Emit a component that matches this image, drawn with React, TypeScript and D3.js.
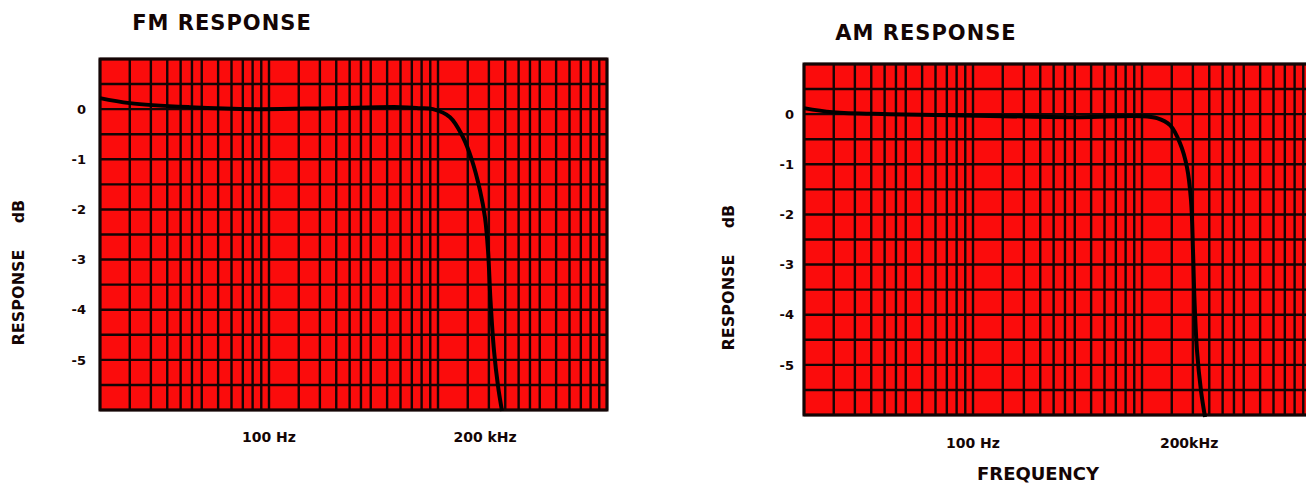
import React from "react";
import { scaleLog, scaleLinear, line, curveCatmullRom } from "d3";

// log paper: lines at these multiples of every decade
const decades = [10, 100, 1000];
const gridSteps = [1, 1.5, 2, 2.5, 3, 3.5, 4, 5, 6, 7, 8, 9];
const dbTicks = [0, -1, -2, -3, -4, -5];

// FM curve (frequency on the paper's log axis, response in dB)
const fmFreq = [10, 15, 34, 85, 229, 596, 782, 933, 1178, 1406, 1589, 1772, 1897, 1977, 2045, 2145, 2265, 2392];
const fmDb = [0.22, 0.12, 0.04, 0.0, 0.02, 0.04, 0.02, 0.0, -0.16, -0.56, -1.02, -1.62, -2.16, -2.82, -3.82, -4.82, -5.52, -6.02];

// AM curve
const amFreq = [10, 14.8, 32, 150, 430, 973, 1227, 1465, 1679, 1846, 1950, 2003, 2045, 2116, 2235, 2360];
const amDb = [0.12, 0.04, 0.0, -0.04, -0.06, -0.04, -0.08, -0.22, -0.58, -1.06, -1.72, -2.72, -3.72, -4.72, -5.52, -6.04];

const freqTicks = [100, 1900];
const freqLabels = ["100 Hz", "200 kHz"];
const amFreqLabels = ["100 Hz", "200kHz"];

const FONT = "'DejaVu Sans', Verdana, sans-serif";
const INK = "#140505";

interface ChartProps {
  title: string;
  freq: number[];
  db: number[];
  labels: string[];
  left: number;
  top: number;
  titleX: number;
  titleY: number;
  tickLabelX: number;
  axisTitleX: number;
  xLabelY: number;
}

function ResponseChart({
  title, freq, db, labels, left, top, titleX, titleY, tickLabelX, axisTitleX, xLabelY,
}: ChartProps) {
  const width = 507;
  const height = 351;
  const x = scaleLog().domain([10, 10000]).range([0, width]);
  const y = scaleLinear().domain([-6, 1]).range([height, 0]);

  const vLines: number[] = [];
  decades.forEach((d) => gridSteps.forEach((m) => vLines.push(d * m)));
  vLines.push(10000);
  const hLines = Array.from({ length: 15 }, (_, i) => 1 - i * 0.5);

  const path = line<number>()
    .x((_, i) => x(freq[i]))
    .y((d) => y(d))
    .curve(curveCatmullRom.alpha(0.5))(db);

  const mid = (y(0) + y(-5)) / 2 + top;

  return (
    <g>
      <text x={titleX} y={titleY} textAnchor="middle" fontFamily={FONT} fontWeight="bold" fontSize={21} letterSpacing={1} fill={INK}>
        {title}
      </text>
      <g transform={`translate(${left},${top})`}>
        <rect x={0} y={0} width={width} height={height} fill="#fb0c0c" />
        {hLines.map((v) => (
          <line key={`h${v}`} x1={0} x2={width} y1={y(v)} y2={y(v)} stroke={INK} strokeWidth={2.4} />
        ))}
        {vLines.map((v) => (
          <line key={`v${v}`} x1={x(v)} x2={x(v)} y1={0} y2={height} stroke={INK} strokeWidth={2.4} />
        ))}
        <rect x={0} y={0} width={width} height={height} fill="none" stroke={INK} strokeWidth={3} />
        <path d={path ?? ""} fill="none" stroke="#000" strokeWidth={4} strokeLinejoin="round" />
        {dbTicks.map((t) => (
          <text key={t} x={tickLabelX - left} y={y(t)} dy="0.36em" textAnchor="end" fontFamily={FONT} fontWeight="bold" fontSize={13} fill={INK}>
            {t === 0 ? "0" : `-${Math.abs(t)}`}
          </text>
        ))}
        {freqTicks.map((t, i) => (
          <text key={t} x={x(t)} y={xLabelY - top} textAnchor="middle" fontFamily={FONT} fontWeight="bold" fontSize={14} fill={INK}>
            {labels[i]}
          </text>
        ))}
      </g>
      <g transform={`translate(${axisTitleX},${mid}) rotate(-90)`}>
        <text x={-63} y={0} textAnchor="middle" fontFamily={FONT} fontWeight="bold" fontSize={16} fill={INK}>RESPONSE</text>
        <text x={23} y={0} textAnchor="middle" fontFamily={FONT} fontWeight="bold" fontSize={16} fill={INK}>dB</text>
      </g>
    </g>
  );
}

export default function App() {
  return (
    <svg width={1306} height={485} style={{ position: "absolute", left: 0, top: 0, background: "#fff" }}>
      <ResponseChart
        title="FM RESPONSE" freq={fmFreq} db={fmDb} labels={freqLabels}
        left={100} top={59} titleX={222} titleY={30} tickLabelX={86} axisTitleX={24} xLabelY={442}
      />
      <ResponseChart
        title="AM RESPONSE" freq={amFreq} db={amDb} labels={amFreqLabels}
        left={804} top={64} titleX={926} titleY={40} tickLabelX={794} axisTitleX={734} xLabelY={448}
      />
      <text x={1038} y={480} textAnchor="middle" fontFamily={FONT} fontWeight="bold" fontSize={18} fill={INK}>
        FREQUENCY
      </text>
    </svg>
  );
}
